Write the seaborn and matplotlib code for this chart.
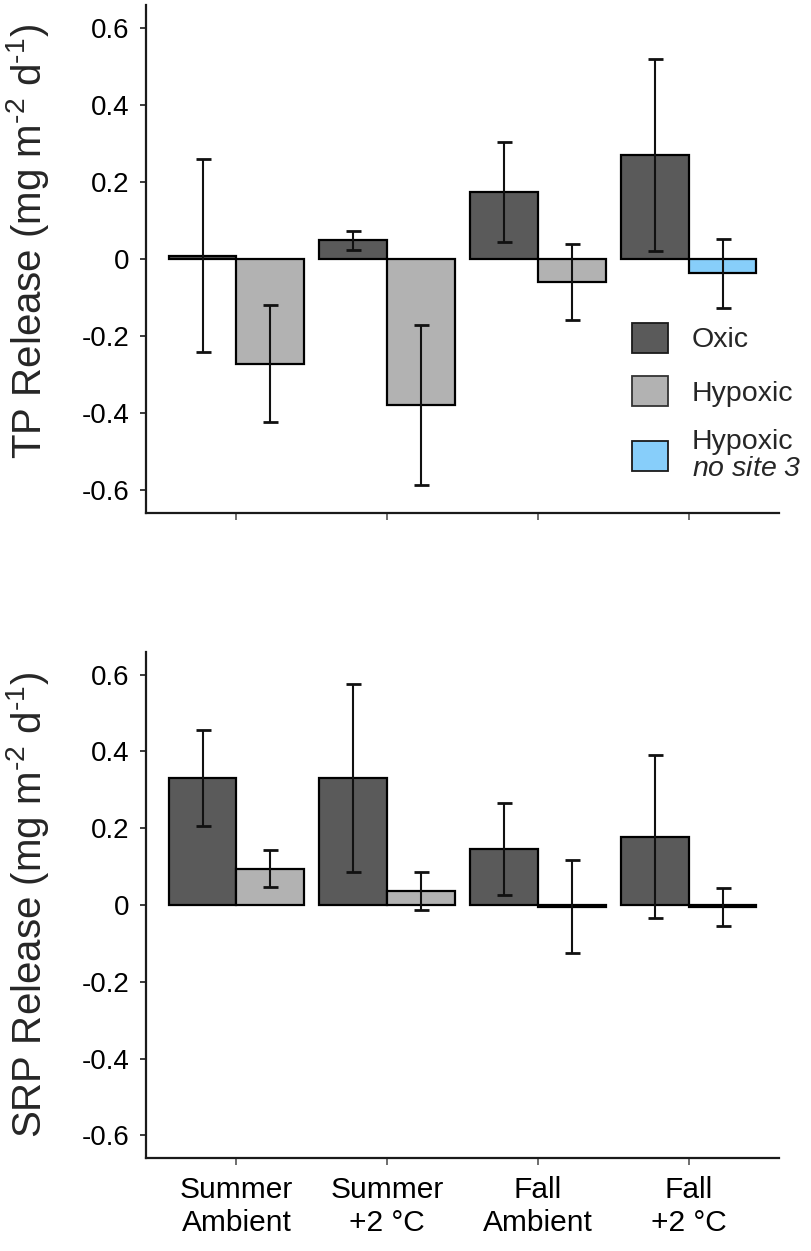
import numpy as np
import pandas as pd
import matplotlib
matplotlib.use("Agg")
import matplotlib.pyplot as plt
import seaborn as sns
from matplotlib.patches import Patch

categories = ["Summer\nAmbient", "Summer\n+2 °C", "Fall\nAmbient", "Fall\n+2 °C"]
conditions = ["Oxic", "Hypoxic"]

tp_oxic = [0.008, 0.048, 0.175, 0.270]
tp_oxic_err = [0.251, 0.025, 0.130, 0.249]
tp_hyp = [-0.272, -0.379, -0.059, -0.037]
tp_hyp_err = [0.153, 0.208, 0.099, 0.090]

srp_oxic = [0.331, 0.331, 0.146, 0.178]
srp_oxic_err = [0.125, 0.244, 0.119, 0.212]
srp_hyp = [0.094, 0.037, -0.004, -0.006]
srp_hyp_err = [0.048, 0.049, 0.120, 0.050]

yticks = [-0.6, -0.4, -0.2, 0, 0.2, 0.4, 0.6]
ytick_labels = ["-0.6", "-0.4", "-0.2", "0", "0.2", "0.4", "0.6"]

c_oxic = "#5a5a5a"
c_hyp = "#b2b2b2"
c_blue = "#87cefa"

sns.set_style("ticks")
plt.rcParams["font.family"] = ["Liberation Sans", "DejaVu Sans"]
plt.rcParams["mathtext.fontset"] = "custom"
plt.rcParams["mathtext.rm"] = "Liberation Sans"
plt.rcParams["mathtext.it"] = "Liberation Sans:italic"
plt.rcParams["mathtext.sf"] = "Liberation Sans:italic"

fig = plt.figure(figsize=(8.11, 12.51), dpi=100)
ax1 = fig.add_axes([0.18, 0.590, 0.7806, 0.406])
ax2 = fig.add_axes([0.18, 0.0741, 0.7806, 0.405])


def make_df(oxic, hyp, oerr, herr):
    rows = []
    for i, c in enumerate(categories):
        rows.append(dict(cat=c, cond="Oxic", val=oxic[i], err=oerr[i]))
        rows.append(dict(cat=c, cond="Hypoxic", val=hyp[i], err=herr[i]))
    return pd.DataFrame(rows)


def draw(ax, df, ylabel, label_y):
    sns.barplot(data=df, x="cat", y="val", hue="cond", order=categories,
                hue_order=conditions, palette=[c_oxic, c_hyp], width=0.9,
                edgecolor="black", linewidth=1.6, errorbar=None, ax=ax,
                legend=False)
    for cont, cond in zip(ax.containers, conditions):
        sub = df[df.cond == cond].set_index("cat").loc[categories]
        xs = [p.get_x() + p.get_width() / 2 for p in cont.patches]
        ax.errorbar(xs, sub["val"].values, yerr=sub["err"].values, fmt="none",
                    ecolor="#111111", elinewidth=1.5, capsize=5.4, capthick=2.0,
                    zorder=5)
    ax.set_xlim(-0.6, 3.6)
    ax.set_ylim(-0.66, 0.66)
    ax.set_yticks(yticks)
    ax.set_yticklabels(ytick_labels)
    ax.set_xlabel("")
    ax.set_ylabel(ylabel, fontsize=29)
    ax.yaxis.set_label_coords(-0.15, label_y)
    sns.despine(ax=ax)
    for s in ["left", "bottom"]:
        ax.spines[s].set_linewidth(1.6)
        ax.spines[s].set_color("#1a1a1a")
    ax.tick_params(axis="y", labelsize=20, length=4, width=1.2, pad=8,
                   colors="#1a1a1a", labelcolor="black")
    ax.tick_params(axis="x", labelsize=21.5, length=5, width=1.2, pad=8,
                   colors="#555555", labelcolor="black")


df_tp = make_df(tp_oxic, tp_hyp, tp_oxic_err, tp_hyp_err)
df_srp = make_df(srp_oxic, srp_hyp, srp_oxic_err, srp_hyp_err)

sup2 = "$\\mathregular{^{\u20102}}$"
sup1 = "$\\mathregular{^{\u20101}}$"
draw(ax1, df_tp, "TP Release (mg m" + sup2 + " d" + sup1 + ")", 0.535)
draw(ax2, df_srp, "SRP Release (mg m" + sup2 + " d" + sup1 + ")", 0.5)
ax1.set_xticklabels([])

# hypoxic bar without site 3 (Fall +2 °C, TP)
ax1.containers[1].patches[3].set_facecolor(c_blue)

handles = [Patch(facecolor=c_oxic, edgecolor="#1a1a1a", linewidth=1.3),
           Patch(facecolor=c_hyp, edgecolor="#333333", linewidth=1.3),
           Patch(facecolor=c_blue, edgecolor="#1a1a1a", linewidth=1.3)]
labels = ["Oxic", "Hypoxic", "Hypoxic\n$\\mathsf{no\\ site\\ 3}$"]
leg = ax1.legend(handles, labels, loc="lower left", bbox_to_anchor=(0.768, 0.06),
                 frameon=False, fontsize=20.5, handlelength=1.27, handleheight=1.23,
                 handletextpad=0.82, labelspacing=0.8, borderaxespad=0, borderpad=0)
leg.get_texts()[2].set_linespacing(1.05)

fig.savefig("out.png", dpi=100)
